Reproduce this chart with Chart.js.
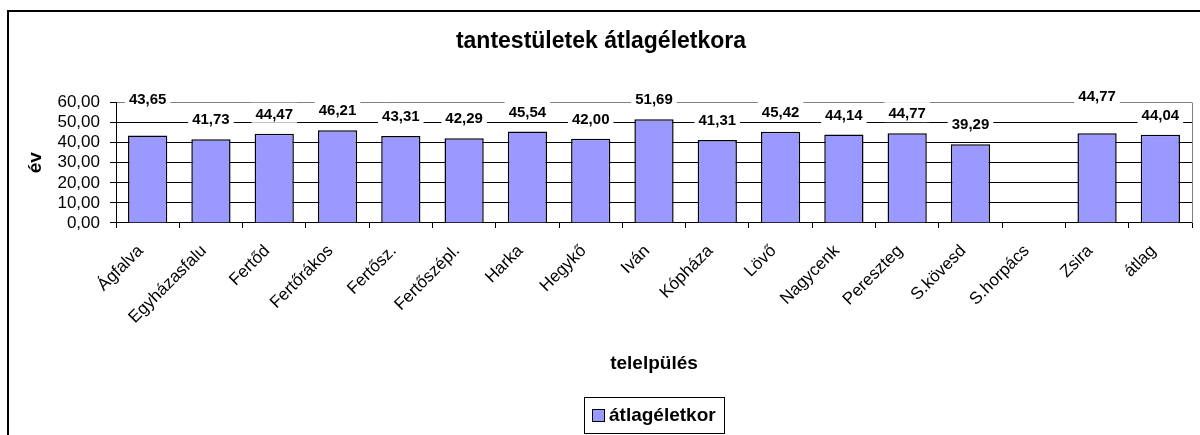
<!DOCTYPE html>
<html>
<head>
<meta charset="utf-8">
<script src="https://cdn.jsdelivr.net/npm/chart.js@4"></script>
<style>
    html, body { margin: 0; padding: 0; background: #fff; }
</style>
</head>
<body>
<canvas id="myChart" width="1200" height="435"></canvas>
<script>
const labels = [
    'Ágfalva',
    'Egyházasfalu',
    'Fertőd',
    'Fertőrákos',
    'Fertősz.',
    'Fertőszépl.',
    'Harka',
    'Hegykő',
    'Iván',
    'Kópháza',
    'Lövő',
    'Nagycenk',
    'Pereszteg',
    'S.kövesd',
    'S.horpács',
    'Zsira',
    'átlag',
];

// S.horpács has no value in the source
const values = [43.65, 41.73, 44.47, 46.21, 43.31, 42.29, 45.54, 42.00, 51.69, 41.31, 45.42, 44.14, 44.77, 39.29, null, 44.77, 44.04];

const yMin = 0;
const yMax = 60;
const yStep = 10;

const FONT = "'Liberation Sans', Arial, sans-serif";
Chart.defaults.font.family = FONT;
Chart.defaults.color = '#000';

// labels that sit higher above their bar in the original
const raisedLabels = ['Ágfalva', 'Zsira'];

const fmt = v => v.toFixed(2).replace('.', ',');

const extras = {
    id: 'extras',
    beforeDraw(chart) {
        const ctx = chart.ctx;
        ctx.save();
        ctx.fillStyle = '#fff';
        ctx.fillRect(0, 0, chart.width, chart.height);
        // outer frame (left and top edges only are visible)
        ctx.fillStyle = '#000';
        ctx.fillRect(7, 10, 2, chart.height);
        ctx.fillRect(7, 10, chart.width, 2);
        ctx.restore();
    },
    afterDatasetsDraw(chart) {
        const { ctx, chartArea } = chart;
        ctx.save();
        // gray right border of the plot area
        ctx.strokeStyle = '#808080';
        ctx.lineWidth = 1;
        ctx.beginPath();
        ctx.moveTo(Math.round(chartArea.right) + 0.5, chartArea.top);
        ctx.lineTo(Math.round(chartArea.right) + 0.5, chartArea.bottom);
        ctx.stroke();

        // value labels with white background
        const meta = chart.getDatasetMeta(0);
        ctx.font = 'bold 15px ' + FONT;
        ctx.textAlign = 'center';
        ctx.textBaseline = 'middle';
        meta.data.forEach((bar, i) => {
            const v = values[i];
            if (v === null) return;
            const txt = fmt(v);
            const lift = raisedLabels.includes(labels[i]) ? 36 : 19;
            const y = bar.y - lift;
            const w = ctx.measureText(txt).width;
            ctx.fillStyle = '#fff';
            ctx.fillRect(bar.x - w / 2 - 4, y - 12, w + 8, 20);
            ctx.fillStyle = '#000';
            ctx.fillText(txt, bar.x, y);
        });
        ctx.restore();
    },
    afterDraw(chart) {
        // legend box
        const { ctx, chartArea } = chart;
        const ds = chart.data.datasets[0];
        ctx.save();
        ctx.font = 'bold 19px ' + FONT;
        const tw = ctx.measureText(ds.label).width;
        const boxW = Math.round(8 + 13 + 4 + tw + 8);
        const cx = (chartArea.left + chartArea.right) / 2;
        const x0 = Math.round(cx - boxW / 2);
        const y0 = chart.height - 38;
        const h = 36;
        ctx.strokeStyle = '#000';
        ctx.lineWidth = 1;
        ctx.strokeRect(x0 + 0.5, y0 + 0.5, boxW, h);
        ctx.fillStyle = ds.backgroundColor;
        ctx.fillRect(x0 + 8, y0 + 12, 12, 12);
        ctx.strokeRect(x0 + 8.5, y0 + 12.5, 12, 12);
        ctx.fillStyle = '#000';
        ctx.textAlign = 'left';
        ctx.textBaseline = 'middle';
        ctx.fillText(ds.label, x0 + 25, y0 + 18.5);
        ctx.restore();
    }
};

const data = {
    labels: labels,
    datasets: [{
        label: 'átlagéletkor',
        data: values,
        backgroundColor: '#9999FF',
        borderColor: '#000',
        borderWidth: 1.5,
        barPercentage: 0.62,
        categoryPercentage: 1,
    }]
};

const config = {
    type: 'bar',
    data: data,
    options: {
        responsive: false,
        animation: false,
        layout: { padding: { left: 10, right: 8, top: 0, bottom: 39 } },
        plugins: {
            legend: { display: false },
            tooltip: { enabled: false },
            title: {
                display: true,
                text: 'tantestületek átlagéletkora',
                color: '#000',
                font: { size: 23, weight: 'bold' },
                padding: { top: 28, bottom: 47 }
            }
        },
        scales: {
            x: {
                afterFit: s => { s.height = 173; },
                grid: {
                    display: true,
                    drawOnChartArea: false,
                    offset: true,
                    color: '#000',
                    tickLength: 5
                },
                border: { color: '#000', width: 1 },
                ticks: {
                    autoSkip: false,
                    maxRotation: 45,
                    minRotation: 45,
                    padding: 13,
                    labelOffset: -7,
                    color: '#000',
                    font: { size: 17 }
                },
                title: {
                    display: true,
                    text: 'telelpülés',
                    color: '#000',
                    font: { size: 19, weight: 'bold' },
                    padding: { top: 0, bottom: 21 }
                }
            },
            y: {
                afterFit: s => { s.width = 106; },
                min: yMin,
                max: yMax,
                grid: {
                    color: c => (c.tick && c.tick.value === yMax ? '#808080' : '#000'),
                    tickColor: '#000',
                    tickLength: 6
                },
                border: { color: '#000', width: 1 },
                ticks: {
                    autoSkip: false,
                    stepSize: yStep,
                    padding: 10,
                    color: '#000',
                    font: { size: 17 },
                    callback: v => fmt(v)
                },
                title: {
                    display: true,
                    text: 'év',
                    color: '#000',
                    font: { size: 19, weight: 'bold' },
                    padding: { top: 14, bottom: 0 }
                }
            }
        }
    },
    plugins: [extras]
};

const myChart = new Chart(
    document.getElementById('myChart'),
    config
);
</script>
</body>
</html>
